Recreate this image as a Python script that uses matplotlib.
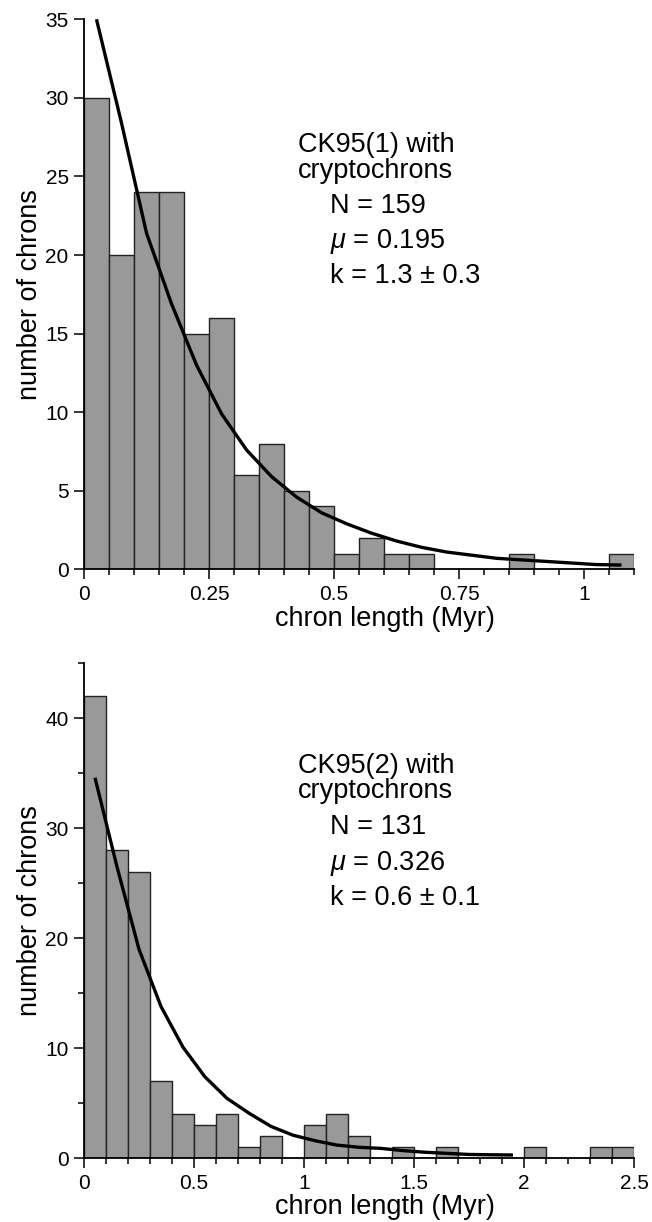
import numpy as np
import matplotlib
matplotlib.use("Agg")
import matplotlib.pyplot as plt
from matplotlib.ticker import FixedLocator

plt.rcParams['font.family'] = ['Liberation Sans', 'DejaVu Sans']
plt.rcParams['mathtext.fontset'] = 'custom'
plt.rcParams['mathtext.rm'] = 'Liberation Sans'
plt.rcParams['mathtext.it'] = 'Liberation Sans:italic'

# ---- CK95(1) with cryptochrons: histogram of chron lengths (bin width 0.05 Myr)
bin_w1 = 0.05
counts1 = [30, 20, 24, 24, 15, 16, 6, 8, 5, 4, 1, 2, 1, 1, 0, 0, 0, 1, 0, 0, 0, 1]
fit_x1 = [0.025, 0.075, 0.125, 0.175, 0.225, 0.275, 0.325, 0.375, 0.425, 0.475, 0.525,
          0.575, 0.625, 0.675, 0.725, 0.775, 0.825, 0.875, 0.925, 0.975, 1.025, 1.075]
fit_y1 = [35.0, 28.4, 21.4, 16.9, 13.0, 9.9, 7.6, 5.9, 4.6, 3.6, 2.9,
          2.3, 1.8, 1.4, 1.1, 0.9, 0.7, 0.6, 0.5, 0.4, 0.3, 0.27]
xticks1 = [0, 0.25, 0.5, 0.75, 1]
xticklabels1 = ["0", "0.25", "0.5", "0.75", "1"]
yticks1 = [0, 5, 10, 15, 20, 25, 30, 35]
text1 = ["CK95(1) with", "cryptochrons", "N = 159", r"$\mu$ = 0.195", "k = 1.3 ± 0.3"]

# ---- CK95(2) with cryptochrons: histogram of chron lengths (bin width 0.1 Myr)
bin_w2 = 0.1
counts2 = [42, 28, 26, 7, 4, 3, 4, 1, 2, 0, 3, 4, 2, 0, 1, 0, 1, 0, 0, 0, 1, 0, 0, 1, 1]
fit_x2 = [0.05, 0.15, 0.25, 0.35, 0.45, 0.55, 0.65, 0.75, 0.85, 0.95, 1.05,
          1.15, 1.25, 1.35, 1.45, 1.55, 1.65, 1.75, 1.85, 1.95]
fit_y2 = [34.6, 26.5, 19.0, 13.8, 10.1, 7.4, 5.45, 4.1, 2.9, 2.1, 1.6,
          1.2, 1.0, 0.9, 0.7, 0.55, 0.45, 0.35, 0.32, 0.3]
xticks2 = [0, 0.5, 1, 1.5, 2, 2.5]
xticklabels2 = ["0", "0.5", "1", "1.5", "2", "2.5"]
yticks2 = [0, 10, 20, 30, 40]
text2 = ["CK95(2) with", "cryptochrons", "N = 131", r"$\mu$ = 0.326", "k = 0.6 ± 0.1"]

W, H = 652, 1222
fig = plt.figure(figsize=(W / 100, H / 100), dpi=100)

FS = 19.5
BAR = "#999999"


def px_axes(left, top, right, bottom):
    return fig.add_axes([left / W, 1 - bottom / H, (right - left) / W, (bottom - top) / H])


def style(ax, xmax, ymax, xticks, xlabels, minor_x, yticks, minor_y):
    for s in ("top", "right"):
        ax.spines[s].set_visible(False)
    for s in ("left", "bottom"):
        ax.spines[s].set_linewidth(1.3)
    ax.set_xlim(0, xmax)
    ax.set_ylim(0, ymax)
    ax.set_xticks(xticks)
    ax.set_xticklabels(xlabels)
    ax.xaxis.set_minor_locator(FixedLocator(minor_x))
    ax.set_yticks(yticks)
    ax.set_yticklabels([str(v) for v in yticks])
    if minor_y:
        ax.yaxis.set_minor_locator(FixedLocator(minor_y))
    ax.tick_params(which="major", direction="out", length=7, width=1.1,
                   labelsize=15, pad=4)
    ax.tick_params(which="minor", direction="out", length=4, width=1.1)
    ax.set_xlabel("chron length (Myr)", fontsize=FS)
    ax.set_ylabel("number of chrons", fontsize=FS)


def annotate(lines, x0, x1, baselines):
    xs = [x0, x0, x1, x1, x1]
    for s, x, y in zip(lines, xs, baselines):
        fig.text(x / W, 1 - y / H, s, fontsize=FS, ha="left", va="baseline")


# top panel
ax1 = px_axes(84, 19.3, 634, 569.3)
edges1 = np.arange(len(counts1)) * bin_w1
ax1.bar(edges1, counts1, width=bin_w1, align="edge", color=BAR,
        edgecolor="#222222", linewidth=1.0, zorder=2)
ax1.plot(fit_x1, fit_y1, color="black", linewidth=2.4, zorder=3,
         solid_capstyle="butt")
style(ax1, 1.1, 35, xticks1, xticklabels1,
      np.arange(0, 1.1001, 0.05), yticks1, None)
ax1.xaxis.set_label_coords(0.547, -0.066)
ax1.yaxis.set_label_coords(-0.075, 0.5)
annotate(text1, 298, 330, [152, 178, 213, 248, 283])

# bottom panel
ax2 = px_axes(84, 663.3, 634, 1158.3)
edges2 = np.arange(len(counts2)) * bin_w2
ax2.bar(edges2, counts2, width=bin_w2, align="edge", color=BAR,
        edgecolor="#222222", linewidth=1.0, zorder=2)
ax2.plot(fit_x2, fit_y2, color="black", linewidth=2.4, zorder=3,
         solid_capstyle="butt")
style(ax2, 2.5, 45, xticks2, xticklabels2,
      np.arange(0, 2.5001, 0.1), yticks2, [5, 15, 25, 35, 45])
ax2.xaxis.set_label_coords(0.547, -0.073)
ax2.yaxis.set_label_coords(-0.075, 0.5)
annotate(text2, 298, 330, [773, 798, 834, 870, 905])

fig.savefig("out.png", dpi=100)
